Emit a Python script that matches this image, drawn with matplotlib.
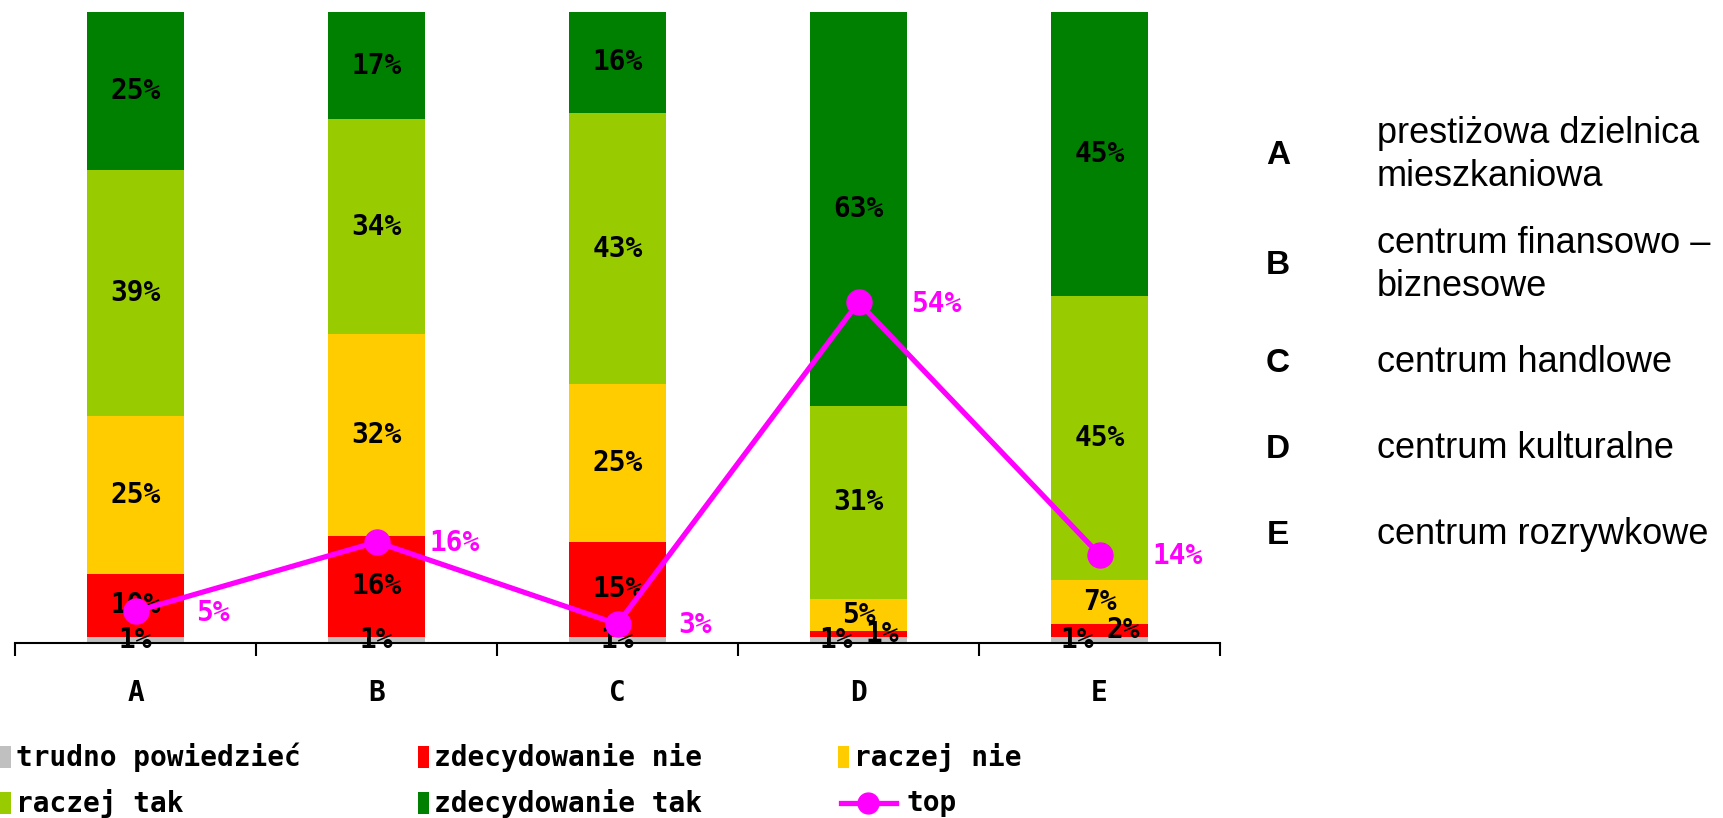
import matplotlib
matplotlib.use("Agg")
import matplotlib.pyplot as plt
import numpy as np
from matplotlib.patches import Rectangle
from matplotlib.lines import Line2D

# ---------------- data ----------------
categories = ["A", "B", "C", "D", "E"]
series_names = ["trudno powiedzieć", "zdecydowanie nie", "raczej nie", "raczej tak", "zdecydowanie tak"]
trudno = [1, 1, 1, 1, 1]
zdec_nie = [10, 16, 15, 1, 2]
raczej_nie = [25, 32, 25, 5, 7]
raczej_tak = [39, 34, 43, 31, 45]
zdec_tak = [25, 17, 16, 63, 45]
top = [5, 16, 3, 54, 14]
descriptions = ["prestiżowa dzielnica\nmieszkaniowa", "centrum finansowo –\nbiznesowe",
                "centrum handlowe", "centrum kulturalne", "centrum rozrywkowe"]

colors = ["#C0C0C0", "#FF0000", "#FFCC00", "#99CC00", "#008000"]
line_color = "#FF00FF"

W, H = 1723, 818
fig = plt.figure(figsize=(W / 100, H / 100), dpi=100)
fig.patch.set_facecolor("white")

def fx(px):
    return px / W

def fy(py):
    return 1 - py / H

ax = fig.add_axes([fx(15), fy(643), fx(1220) - fx(15), fy(12) - fy(643)])

mono = ["DejaVu Sans Mono", "DejaVu Sans"]
lab_size = 20

series = np.array([trudno, zdec_nie, raczej_nie, raczej_tak, zdec_tak], dtype=float)
totals = series.sum(axis=0)
shares = series / totals * 100  # 100% stacked
x = np.arange(len(categories))
bottom = np.zeros(len(categories))
for i, (vals, pct) in enumerate(zip(series, shares)):
    ax.bar(x, pct, bottom=bottom, width=0.4, color=colors[i], edgecolor="none", zorder=2)
    for j in range(len(categories)):
        dx = 0
        if zdec_nie[j] < 3:
            if i == 0:
                dx = -16
            elif i == 1:
                dx = 17
        ax.annotate(f"{int(vals[j])}%", (x[j], bottom[j] + pct[j] / 2),
                    xytext=(dx, 0), textcoords="offset points",
                    ha="center", va="center", fontsize=lab_size, fontweight="bold",
                    family=mono, color="black", zorder=3)
    bottom += pct

ax.plot(x, top, color=line_color, lw=3.8, marker="o", markersize=18, zorder=5)
for j in range(len(categories)):
    ax.annotate(f"{top[j]}%", (x[j], top[j]), xytext=(56, -1), textcoords="offset points",
                ha="center", va="center", fontsize=lab_size, fontweight="bold",
                family=mono, color=line_color, zorder=6)

ax.set_xlim(-0.5, len(categories) - 0.5)
ax.set_ylim(0, 100)
for s in ["left", "right", "top"]:
    ax.spines[s].set_visible(False)
ax.spines["bottom"].set_linewidth(1.5)
ax.spines["bottom"].set_zorder(4)
ax.set_yticks([])
ax.set_xticks(x)
ax.set_xticklabels(categories, fontsize=20, fontweight="bold", family=mono)
ax.tick_params(axis="x", which="major", length=0, pad=26)
ax.set_xticks(np.arange(-0.5, len(categories), 1.0), minor=True)
ax.tick_params(axis="x", which="minor", length=9, width=1.5, direction="out")
ax.patch.set_alpha(0)

# ---------------- legend (manual) ----------------
leg_cols = [0, 418, 838]
leg_rows = [757, 803]
leg_labels = series_names + ["top"]
for k, lab in enumerate(leg_labels):
    r, c = divmod(k, 3)
    x0 = leg_cols[c]
    yc = leg_rows[r]
    if k < len(colors):
        fig.add_artist(Rectangle((fx(x0), fy(yc + 11)), fx(11), fy(yc - 11) - fy(yc + 11),
                                 transform=fig.transFigure, color=colors[k], lw=0))
        tx = x0 + 16
    else:
        fig.add_artist(Line2D([fx(x0 + 3), fx(x0 + 58)], [fy(yc), fy(yc)],
                              transform=fig.transFigure, color=line_color, lw=3.8))
        fig.add_artist(Line2D([fx(x0 + 30)], [fy(yc)], transform=fig.transFigure,
                              color=line_color, marker="o", markersize=15, lw=0))
        tx = x0 + 68
    fig.text(fx(tx), fy(yc), lab, ha="left", va="center", fontsize=20,
             fontweight="bold", family=mono)

# ---------------- right-side descriptions ----------------
desc_y = [155, 265, 363, 449, 535]
for cat, d, yy in zip(categories, descriptions, desc_y):
    fig.text(fx(1278), fy(yy), cat, ha="center", va="center", fontsize=24,
             fontweight="bold", family=["Liberation Sans", "DejaVu Sans"])
    fig.text(fx(1377), fy(yy), d, ha="left", va="center", fontsize=26,
             linespacing=1.32, family=["Liberation Sans", "DejaVu Sans"])

fig.savefig("out.png", dpi=100)
